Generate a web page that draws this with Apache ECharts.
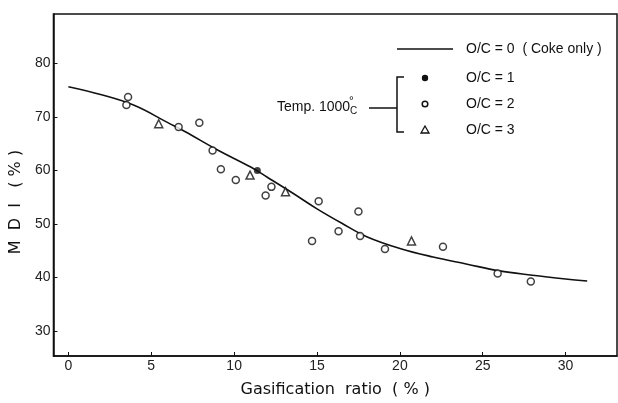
<!DOCTYPE html>
<html>
<head>
<meta charset="utf-8">
<script src="https://cdn.jsdelivr.net/npm/echarts@6/dist/echarts.min.js"></script>
<style>html,body{margin:0;padding:0;background:#fff}#c{width:618px;height:403px}</style>
</head>
<body>
<div id="c"></div>
<script>
// Fitted curve O/C = 0 (Coke only): [gasification ratio, MDI]
var curveOC0 = [[0,75.6],[2,74.1],[4,72.1],[6,68.9],[7,67.3],[9,63.8],[11,60.6],[12,58.7],[13.5,55.8],[15,52.8],[16.5,50.1],[18,47.6],[20,45.4],[22,43.8],[24,42.5],[26,41.2],[28,40.4],[30,39.7],[31.3,39.3]];
var pointsOC1 = [[11.4,59.95]];
var pointsOC2 = [[3.6,73.7],[3.5,72.2],[6.65,68.1],[7.9,68.9],[8.7,63.7],[9.2,60.2],[10.1,58.2],[11.9,55.3],[12.25,56.9],[15.1,54.2],[17.5,52.3],[14.7,46.8],[16.3,48.6],[17.6,47.7],[19.1,45.3],[22.6,45.7],[25.9,40.7],[27.9,39.2]];
var pointsOC3 = [[5.45,68.7],[10.96,59.1],[13.1,56.0],[20.7,46.8]];
var xTicks = [0,5,10,15,20,25,30];
var yTicks = [30,40,50,60,70,80];
var legendLabels = ['O/C = 0  ( Coke only )','O/C = 1','O/C = 2','O/C = 3'];

var chart = echarts.init(document.getElementById('c'));
var font = 'Liberation Sans';
chart.setOption({
  animation:false,
  backgroundColor:'#fff',
  grid:{left:51.5,right:1,top:14,bottom:42.5,show:true,borderColor:'#111',borderWidth:1.5},
  xAxis:{type:'value',min:-0.9,max:33.1,
    axisLine:{onZero:false,lineStyle:{color:'#111',width:1.5}},
    axisTick:{inside:true,length:4,customValues:xTicks,lineStyle:{color:'#111'}},
    axisLabel:{customValues:xTicks,margin:3,fontSize:14,color:'#222',fontFamily:font},
    splitLine:{show:false},
    name:'Gasification  ratio  ( % )',nameLocation:'middle',nameGap:26,
    nameTextStyle:{fontSize:16,color:'#111',fontFamily:'DejaVu Sans'}},
  yAxis:{type:'value',min:25.3,max:89.2,
    axisLine:{onZero:false,lineStyle:{color:'#111',width:1.5}},
    axisTick:{inside:true,length:4,customValues:yTicks,lineStyle:{color:'#111'}},
    axisLabel:{customValues:yTicks,margin:3,fontSize:14,color:'#222',fontFamily:font},
    splitLine:{show:false},
    name:'M  D  I   ( % )',nameLocation:'middle',nameGap:27,
    nameTextStyle:{fontSize:16,color:'#111',fontFamily:'DejaVu Sans',padding:[0,34,0,0]}},
  series:[
    {type:'line',name:legendLabels[0],data:curveOC0,smooth:0.4,showSymbol:false,lineStyle:{color:'#111',width:1.6},z:2},
    {type:'scatter',name:legendLabels[1],data:pointsOC1,symbol:'circle',symbolSize:7,itemStyle:{color:'#111'},z:3},
    {type:'scatter',name:legendLabels[2],data:pointsOC2,symbol:'circle',symbolSize:7,itemStyle:{color:'#fff',borderColor:'#111',borderWidth:1.5},z:3},
    {type:'scatter',name:legendLabels[3],data:pointsOC3,symbol:'triangle',symbolSize:8,itemStyle:{color:'#fff',borderColor:'#111',borderWidth:1.5},z:3}
  ],
  graphic:[
    {type:'line',shape:{x1:397,y1:49,x2:453,y2:49},style:{stroke:'#111',lineWidth:1.5}},
    {type:'text',x:466,y:49,style:{text:legendLabels[0],fontSize:14,fontFamily:font,fill:'#111',verticalAlign:'middle'}},
    {type:'circle',shape:{cx:425,cy:78,r:3.2},style:{fill:'#111'}},
    {type:'text',x:466,y:78,style:{text:legendLabels[1],fontSize:14,fontFamily:font,fill:'#111',verticalAlign:'middle'}},
    {type:'circle',shape:{cx:425,cy:104,r:2.8},style:{fill:'#fff',stroke:'#111',lineWidth:1.5}},
    {type:'text',x:466,y:104,style:{text:legendLabels[2],fontSize:14,fontFamily:font,fill:'#111',verticalAlign:'middle'}},
    {type:'polygon',shape:{points:[[425,126],[429,133],[421,133]]},style:{fill:'#fff',stroke:'#111',lineWidth:1.3}},
    {type:'text',x:466,y:130,style:{text:legendLabels[3],fontSize:14,fontFamily:font,fill:'#111',verticalAlign:'middle'}},
    {type:'polyline',shape:{points:[[404,77],[397,77],[397,132],[404,132]]},style:{stroke:'#111',lineWidth:1.5,fill:null}},
    {type:'line',shape:{x1:369,y1:108,x2:397,y2:108},style:{stroke:'#111',lineWidth:1.5}},
    {type:'text',x:277,y:107,style:{text:'Temp. 1000',fontSize:14,fontFamily:font,fill:'#111',verticalAlign:'middle'}},
    {type:'text',x:349,y:102,style:{text:'°',fontSize:12,fontFamily:font,fill:'#111',verticalAlign:'middle'}},
    {type:'text',x:350,y:111,style:{text:'C',fontSize:10,fontFamily:font,fill:'#111',verticalAlign:'middle'}}
  ]
});
</script>
</body>
</html>
